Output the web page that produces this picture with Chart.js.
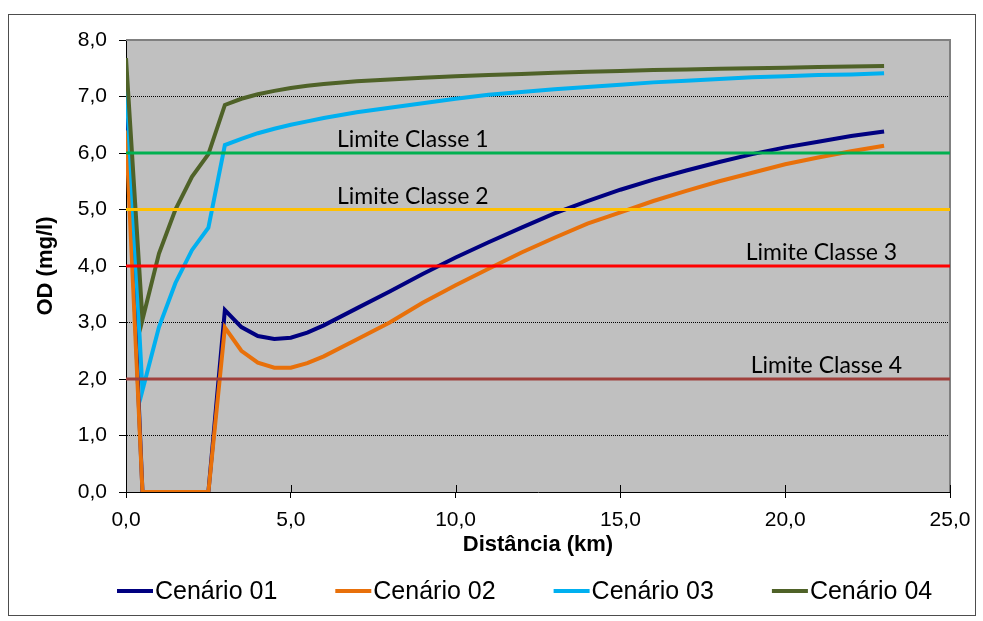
<!DOCTYPE html>
<html>
<head>
<meta charset="utf-8">
<title>OD x Distância</title>
<script src="https://cdn.jsdelivr.net/npm/chart.js@4.4.1/dist/chart.umd.min.js"></script>
<style>
  html, body { margin: 0; padding: 0; background: #fff; }
  canvas { display: block; }
</style>
</head>
<body>
<canvas id="odChart" width="983" height="621"></canvas>
<script>
// distância ao longo do rio (km)
var distancia = [0, 0.5, 1, 1.5, 2, 2.5, 3, 3.5, 4, 4.5, 5, 5.5, 6,
    7, 8, 9, 10, 11, 12, 13, 14, 15, 16, 17, 18, 19, 20, 21, 22, 23];

// OD (mg/l) por cenário
var cenario01 = [7.0, 0, 0, 0, 0, 0, 3.22, 2.92, 2.76, 2.71, 2.73, 2.82, 2.95,
    3.25, 3.55, 3.86, 4.15, 4.42, 4.68, 4.93, 5.15, 5.35, 5.53, 5.69, 5.84, 5.98, 6.10, 6.20, 6.30, 6.38];
var cenario02 = [6.4, 0, 0, 0, 0, 0, 2.91, 2.50, 2.29, 2.20, 2.20, 2.28, 2.40,
    2.70, 3.00, 3.35, 3.66, 3.95, 4.24, 4.50, 4.75, 4.95, 5.15, 5.33, 5.50, 5.65, 5.80, 5.92, 6.03, 6.13];
var cenario03 = [7.3, 1.80, 2.92, 3.70, 4.28, 4.68, 6.14, 6.25, 6.35, 6.43, 6.50, 6.56, 6.62,
    6.72, 6.80, 6.88, 6.96, 7.03, 7.08, 7.13, 7.17, 7.21, 7.25, 7.28, 7.31, 7.34, 7.36, 7.38, 7.39, 7.41];
var cenario04 = [7.68, 3.05, 4.22, 5.00, 5.58, 5.98, 6.85, 6.96, 7.04, 7.10, 7.15, 7.19, 7.22,
    7.27, 7.30, 7.33, 7.36, 7.38, 7.40, 7.42, 7.44, 7.45, 7.47, 7.48, 7.49, 7.50, 7.51, 7.52, 7.53, 7.54];

var nomesCenarios = ['Cenário 01', 'Cenário 02', 'Cenário 03', 'Cenário 04'];

// limites de classe (mg/l) e extensão das linhas (km)
var nomesLimites = ['Limite Classe 1', 'Limite Classe 2', 'Limite Classe 3', 'Limite Classe 4'];
var valoresLimites = [6, 5, 4, 2];
var extensaoLimites = [0, 25];

var coresCenarios = ['#000080', '#e8700a', '#00b0f0', '#4f6228'];
var coresLimites = ['#00b050', '#ffc000', '#ff0000', '#a0403c'];
// posição (km) dos rótulos dos limites
var rotuloLimiteX = [8.7, 8.7, 21.1, 21.25];

function virgula(v) {
    return v.toFixed(1).replace('.', ',');
}

function pontos(xs, ys) {
    return xs.map(function (x, i) { return { x: x, y: ys[i] }; });
}

var datasets = [];
// limites por cima das séries (order menor = desenhado por último)
valoresLimites.forEach(function (v, i) {
    datasets.push({
        label: nomesLimites[i],
        data: pontos(extensaoLimites, [v, v]),
        borderColor: coresLimites[i],
        borderWidth: 3,
        pointRadius: 0,
        order: 0,
        limite: true
    });
});
[cenario01, cenario02, cenario03, cenario04].forEach(function (serie, i) {
    datasets.push({
        label: nomesCenarios[i],
        data: pontos(distancia, serie),
        borderColor: coresCenarios[i],
        backgroundColor: coresCenarios[i],
        borderWidth: 4,
        pointRadius: 0,
        tension: 0,
        order: 4 - i
    });
});

var fundoGrafico = {
    id: 'fundoGrafico',
    beforeDraw: function (chart) {
        var ctx = chart.ctx, a = chart.chartArea;
        ctx.save();
        ctx.fillStyle = '#fff';
        ctx.fillRect(0, 0, chart.width, chart.height);
        ctx.strokeStyle = '#4d4d4d';
        ctx.lineWidth = 1;
        ctx.strokeRect(8.5, 14.5, 967, 601);
        ctx.fillStyle = '#c0c0c0';
        ctx.fillRect(a.left, a.top, a.right - a.left, a.bottom - a.top);
        ctx.restore();
    },
    beforeDatasetsDraw: function (chart) {
        var ctx = chart.ctx, a = chart.chartArea;
        ctx.save();
        ctx.strokeStyle = '#808080';
        ctx.lineWidth = 2;
        ctx.beginPath();
        ctx.moveTo(a.left, a.top);
        ctx.lineTo(a.right, a.top);
        ctx.lineTo(a.right, a.bottom);
        ctx.stroke();
        // marcas do eixo x cruzando o eixo
        var xs = chart.scales.x;
        ctx.strokeStyle = '#000';
        ctx.lineWidth = 1;
        xs.ticks.forEach(function (t) {
            var px = Math.round(xs.getPixelForValue(t.value)) + 0.5;
            ctx.beginPath();
            ctx.moveTo(px, a.bottom - 7);
            ctx.lineTo(px, a.bottom);
            ctx.stroke();
        });
        ctx.restore();
    },
    afterDraw: function (chart) {
        var ctx = chart.ctx;
        var xs = chart.scales.x, ys = chart.scales.y;
        ctx.save();
        // rótulos dos limites
        ctx.font = '23px Lato';
        ctx.fillStyle = '#000';
        ctx.textAlign = 'center';
        ctx.textBaseline = 'alphabetic';
        valoresLimites.forEach(function (v, i) {
            ctx.fillText(nomesLimites[i], xs.getPixelForValue(rotuloLimiteX[i]), ys.getPixelForValue(v) - 6);
        });
        // legenda
        ctx.font = '25px "Liberation Sans", Arial';
        ctx.textAlign = 'left';
        ctx.textBaseline = 'middle';
        var x = 117, y = 591;
        chart.data.datasets.forEach(function (ds) {
            if (ds.limite) return;
            ctx.strokeStyle = ds.borderColor;
            ctx.lineWidth = 4;
            ctx.beginPath();
            ctx.moveTo(x, y);
            ctx.lineTo(x + 36, y);
            ctx.stroke();
            ctx.fillText(ds.label, x + 38, y + 1);
            x += 38 + ctx.measureText(ds.label).width + 58;
        });
        ctx.restore();
    }
};

var ctx = document.getElementById('odChart').getContext('2d');
var odChart = new Chart(ctx, {
    type: 'line',
    data: { datasets: datasets },
    options: {
        responsive: false,
        animation: false,
        layout: { padding: { left: 8, right: 33, top: 40, bottom: 59 } },
        plugins: {
            legend: { display: false },
            tooltip: { enabled: false }
        },
        scales: {
            x: {
                type: 'linear',
                min: 0,
                max: 25,
                afterFit: function (scale) { scale.height = 70; },
                ticks: {
                    stepSize: 5,
                    padding: 10,
                    color: '#000',
                    font: { family: '"Liberation Sans", Arial', size: 21 },
                    callback: function (v) { return virgula(v); }
                },
                grid: { drawOnChartArea: false, tickLength: 6, color: '#000', tickColor: '#000' },
                border: { color: '#000', width: 1 },
                title: {
                    display: true,
                    text: 'Distância (km)',
                    color: '#000',
                    padding: { top: 0, bottom: 4 },
                    font: { family: '"Liberation Sans", Arial', size: 22, weight: 'bold' }
                }
            },
            y: {
                min: 0,
                max: 8,
                afterFit: function (scale) { scale.width = 118; },
                ticks: {
                    stepSize: 1,
                    padding: 12,
                    color: '#000',
                    font: { family: '"Liberation Sans", Arial', size: 21 },
                    callback: function (v) { return virgula(v); }
                },
                grid: {
                    color: function (c) {
                        return (c.tick && c.tick.value > 0 && c.tick.value < 8) ? '#000' : 'rgba(0,0,0,0)';
                    },
                    lineWidth: 1,
                    tickLength: 7,
                    tickColor: '#000',
                    tickBorderDash: []
                },
                border: { color: '#000', width: 1, dash: [1, 1] },
                title: {
                    display: true,
                    text: 'OD (mg/l)',
                    color: '#000',
                    padding: { top: 25, bottom: 0 },
                    font: { family: '"Liberation Sans", Arial', size: 22, weight: 'bold' }
                }
            }
        }
    },
    plugins: [fundoGrafico]
});
</script>
</body>
</html>
